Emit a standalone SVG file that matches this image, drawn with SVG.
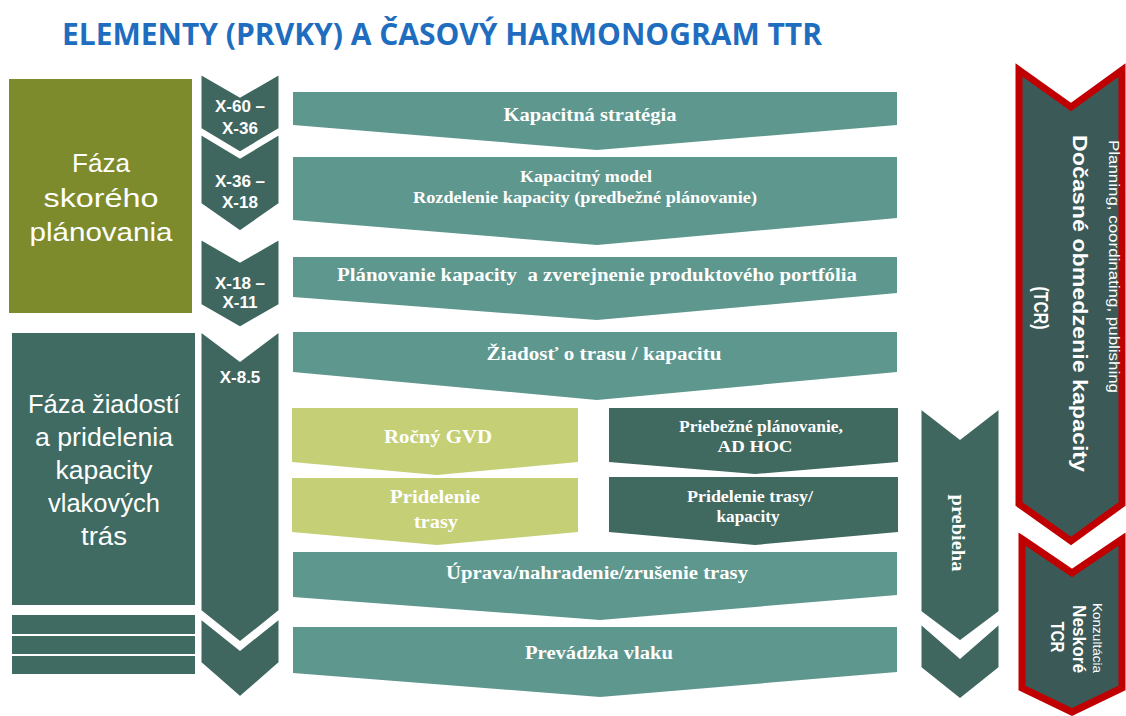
<svg xmlns="http://www.w3.org/2000/svg" width="1126" height="716" viewBox="0 0 1126 716">
<style>
.title{font-family:"Open Sans","Liberation Sans",sans-serif;font-weight:700;font-size:30px;fill:#1F6DBF}
.phase{font-family:"Liberation Sans",Arial,sans-serif;font-size:25px;fill:#ffffff;text-anchor:middle}
.chev{fill:#3F675F;stroke:#ffffff;stroke-width:3;stroke-linejoin:miter}
.chevt{font-family:"Liberation Sans",Arial,sans-serif;font-weight:700;font-size:17px;fill:#ffffff;text-anchor:middle}
.bar{fill:#5E978E}
.dark{fill:#40695F}
.light{fill:#C5CF76}
.bt{font-family:"Liberation Serif","Times New Roman",serif;font-weight:700;font-size:18px;fill:#ffffff;text-anchor:middle}
.bts{font-family:"Liberation Serif","Times New Roman",serif;font-weight:700;font-size:16px;fill:#ffffff;text-anchor:middle}
.red{fill:#3B5956;stroke:#C00000;stroke-width:7;stroke-linejoin:miter}
.rt{font-family:"Liberation Sans",Arial,sans-serif;fill:#ffffff}
</style>

<text class="title" x="62" y="45" textLength="760" lengthAdjust="spacingAndGlyphs">ELEMENTY (PRVKY) A ČASOVÝ HARMONOGRAM TTR</text>

<g id="phase-early">
  <rect x="9" y="79" width="183" height="234" fill="#7D8B2D"/>
  <text class="phase" x="101" y="172" textLength="58" lengthAdjust="spacingAndGlyphs">Fáza</text>
  <text class="phase" x="101" y="207" textLength="115" lengthAdjust="spacingAndGlyphs">skorého</text>
  <text class="phase" x="101" y="241" textLength="143" lengthAdjust="spacingAndGlyphs">plánovania</text>
</g>

<g id="phase-requests">
  <rect x="12" y="333" width="183" height="272" fill="#3F6B62"/>
  <text class="phase" x="104" y="413" textLength="152" lengthAdjust="spacingAndGlyphs">Fáza žiadostí</text>
  <text class="phase" x="104" y="446" textLength="138" lengthAdjust="spacingAndGlyphs">a pridelenia</text>
  <text class="phase" x="104" y="479" textLength="97" lengthAdjust="spacingAndGlyphs">kapacity</text>
  <text class="phase" x="104" y="512" textLength="112" lengthAdjust="spacingAndGlyphs">vlakových</text>
  <text class="phase" x="104" y="545" textLength="46" lengthAdjust="spacingAndGlyphs">trás</text>
</g>

<g id="phase-stripes">
  <rect x="12" y="615" width="183" height="19" fill="#3F6B62"/>
  <rect x="12" y="636" width="183" height="18" fill="#3F6B62"/>
  <rect x="12" y="656" width="183" height="18" fill="#3F6B62"/>
</g>

<g id="chevron-x60">
  <polygon class="chev" points="200,73 240,96 280,73 280,129 240,153 200,129"/>
  <text class="chevt" x="240" y="112">X-60 –</text>
  <text class="chevt" x="240" y="134">X-36</text>
</g>
<g id="chevron-x36">
  <polygon class="chev" points="200,133 240,157 280,133 280,204 240,232 200,204"/>
  <text class="chevt" x="240" y="187">X-36 –</text>
  <text class="chevt" x="240" y="208">X-18</text>
</g>
<g id="chevron-x18">
  <polygon class="chev" points="200,238 240,261 280,238 280,305 240,328 200,305"/>
  <text class="chevt" x="240" y="289">X-18 –</text>
  <text class="chevt" x="240" y="308">X-11</text>
</g>
<g id="chevron-x85">
  <polygon class="chev" points="200,330 240,360 280,330 280,611 240,643 200,611"/>
  <text class="chevt" x="240" y="383">X-8.5</text>
</g>
<g id="chevron-end">
  <polygon class="chev" points="200,617 240,649 280,617 280,663 240,698 200,663"/>
</g>

<g id="bar-strategia">
  <polygon class="bar" points="293,92 897,92 897,125 597,150 293,125"/>
  <text class="bt" x="590" y="121" textLength="173" lengthAdjust="spacingAndGlyphs">Kapacitná stratégia</text>
</g>
<g id="bar-model">
  <polygon class="bar" points="293,157 897,157 897,218 597,245 293,220"/>
  <text class="bts" x="586" y="182" textLength="132" lengthAdjust="spacingAndGlyphs">Kapacitný model</text>
  <text class="bts" x="585" y="203" textLength="344" lengthAdjust="spacingAndGlyphs">Rozdelenie kapacity (predbežné plánovanie)</text>
</g>
<g id="bar-planovanie">
  <polygon class="bar" points="293,257 897,257 897,293 597,320 293,297"/>
  <text class="bt" x="597" y="281" textLength="520" lengthAdjust="spacingAndGlyphs" xml:space="preserve">Plánovanie kapacity  a zverejnenie produktového portfólia</text>
</g>
<g id="bar-ziadost">
  <polygon class="bar" points="293,332 897,332 897,372 597,400 293,372"/>
  <text class="bt" x="604" y="360" textLength="235" lengthAdjust="spacingAndGlyphs">Žiadosť o trasu / kapacitu</text>
</g>

<g id="box-rocny-gvd">
  <polygon class="light" points="292,408 578,408 578,462 437,475 292,462"/>
  <text class="bt" x="438" y="443" textLength="108" lengthAdjust="spacingAndGlyphs">Ročný GVD</text>
</g>
<g id="box-pridelenie-trasy">
  <polygon class="light" points="292,478 578,478 578,532 437,545 292,532"/>
  <text class="bt" x="435" y="503" textLength="90" lengthAdjust="spacingAndGlyphs">Pridelenie</text>
  <text class="bt" x="436" y="528" textLength="44" lengthAdjust="spacingAndGlyphs">trasy</text>
</g>
<g id="box-priebezne">
  <polygon class="dark" points="609,408 898,408 898,462 755,474 609,462"/>
  <text class="bts" x="761" y="432" textLength="164" lengthAdjust="spacingAndGlyphs">Priebežné plánovanie,</text>
  <text class="bts" x="755" y="452" textLength="75" lengthAdjust="spacingAndGlyphs">AD HOC</text>
</g>
<g id="box-pridelenie-kapacity">
  <polygon class="dark" points="609,477 898,477 898,532 755,545 609,532"/>
  <text class="bts" x="750" y="502" textLength="126" lengthAdjust="spacingAndGlyphs">Pridelenie trasy/</text>
  <text class="bts" x="748" y="522" textLength="63" lengthAdjust="spacingAndGlyphs">kapacity</text>
</g>

<g id="bar-uprava">
  <polygon class="bar" points="293,552 897,552 897,595 600,620 293,597"/>
  <text class="bt" x="597" y="579" textLength="302" lengthAdjust="spacingAndGlyphs">Úprava/nahradenie/zrušenie trasy</text>
</g>
<g id="bar-prevadzka">
  <polygon class="bar" points="293,627 897,627 897,672 600,697 293,673"/>
  <text class="bt" x="599" y="659" textLength="148" lengthAdjust="spacingAndGlyphs">Prevádzka vlaku</text>
</g>

<g id="chevron-prebieha">
  <polygon class="chev" points="920,407 960,438 1000,407 1000,612 960,642 920,612"/>
  <text class="bt" transform="translate(952,533) rotate(90)" x="0" y="0" textLength="77" lengthAdjust="spacingAndGlyphs">prebieha</text>
</g>
<g id="chevron-prebieha-end">
  <polygon class="chev" points="920,622 960,657 1000,622 1000,668 960,700 920,668"/>
</g>

<g id="tcr">
  <polygon class="red" points="1019,70 1071,107 1122,70 1122,504 1071,541 1019,504"/>
  <text class="rt" transform="translate(1109,140) rotate(90)" font-size="15" textLength="253" lengthAdjust="spacingAndGlyphs">Planning, coordinating, publishing</text>
  <text class="rt" transform="translate(1073,135) rotate(90)" font-size="21" font-weight="700" textLength="337" lengthAdjust="spacingAndGlyphs">Dočasné obmedzenie kapacity</text>
  <text class="rt" transform="translate(1034,308) rotate(90)" font-size="21" font-weight="700" text-anchor="middle" textLength="43" lengthAdjust="spacingAndGlyphs">(TCR)</text>
</g>

<g id="late-tcr">
  <polygon class="red" points="1022,539 1072,573 1122,539 1122,688 1072,712 1022,688"/>
  <text class="rt" transform="translate(1093,638) rotate(90)" font-size="12" text-anchor="middle" textLength="70" lengthAdjust="spacingAndGlyphs">Konzultácia</text>
  <text class="rt" transform="translate(1073,639) rotate(90)" font-size="18" font-weight="700" text-anchor="middle" textLength="68" lengthAdjust="spacingAndGlyphs">Neskoré</text>
  <text class="rt" transform="translate(1051,637) rotate(90)" font-size="18" font-weight="700" text-anchor="middle" textLength="31" lengthAdjust="spacingAndGlyphs">TCR</text>
</g>
</svg>
